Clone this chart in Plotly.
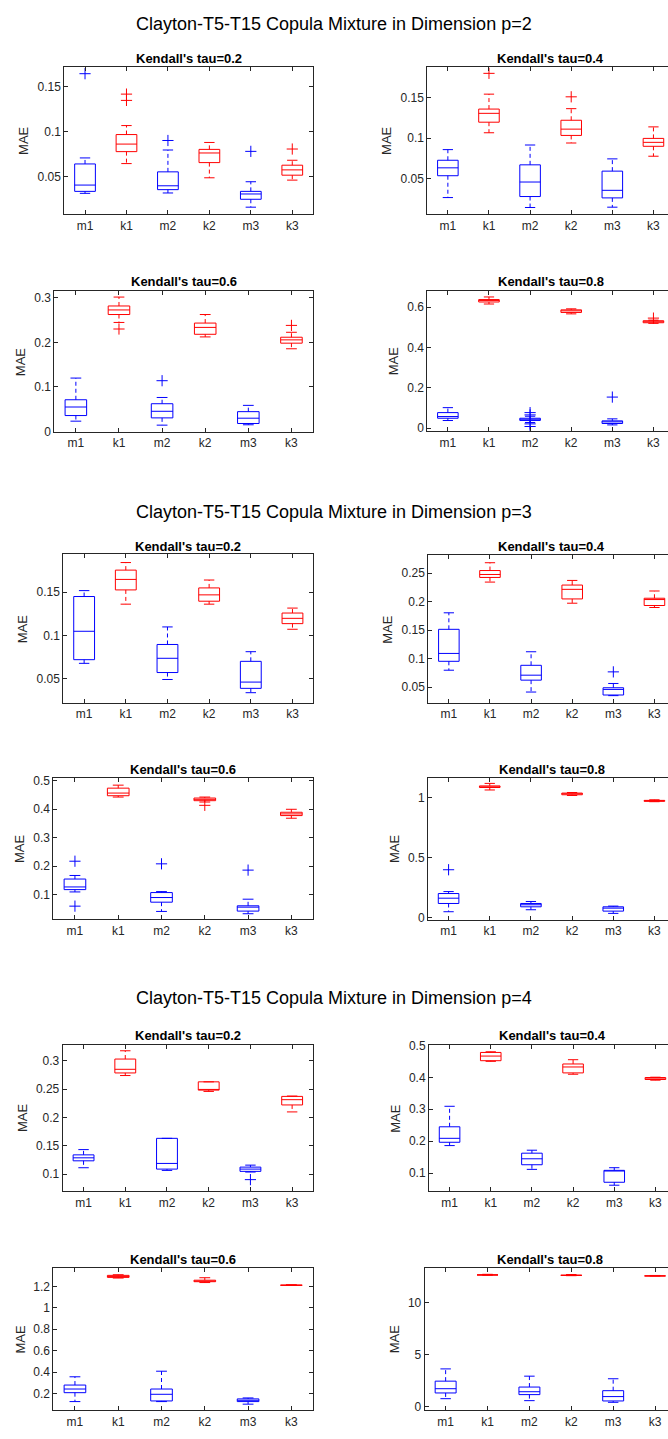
import plotly.graph_objects as go

# ---------------- data ----------------
CATEGORIES = ["m1", "k1", "m2", "k2", "m3", "k3"]
DIMENSIONS = [2, 3, 4]
TAUS = ["0.2", "0.4", "0.6", "0.8"]

# one row per panel: p=2 (tau .2,.4,.6,.8), p=3 (...), p=4 (...)
LOWER_WHISKER = [
    [0.0316, 0.0647, 0.0320, 0.0489, 0.0162, 0.0463],
    [0.0262, 0.1066, 0.0139, 0.0939, 0.0143, 0.0775],
    [0.0229, 0.2446, 0.0140, 0.2121, 0.0148, 0.1855],
    [0.0377, 0.6160, 0.0280, 0.5670, 0.0160, 0.5200],
    [0.0680, 0.1361, 0.0494, 0.1361, 0.0342, 0.1072],
    [0.0798, 0.2341, 0.0416, 0.1971, 0.0353, 0.1896],
    [0.1093, 0.4420, 0.0409, 0.4246, 0.0328, 0.3678],
    [0.0470, 1.0650, 0.0635, 1.0190, 0.0330, 0.9670],
    [0.1111, 0.2738, 0.1064, 0.2458, 0.1035, 0.2096],
    [0.1860, 0.4503, 0.1114, 0.4098, 0.0617, 0.3912],
    [0.1260, 1.2770, 0.1260, 1.2350, 0.1020, 1.2080],
    [0.76, 12.66, 0.57, 12.62, 0.41, 12.58],
]
Q1 = [
    [0.0338, 0.0780, 0.0357, 0.0658, 0.0250, 0.0518],
    [0.0533, 0.1197, 0.0275, 0.1033, 0.0258, 0.0898],
    [0.0355, 0.2624, 0.0303, 0.2180, 0.0177, 0.1981],
    [0.0490, 0.6260, 0.0380, 0.5740, 0.0230, 0.5230],
    [0.0722, 0.1525, 0.0574, 0.1395, 0.0392, 0.1137],
    [0.0954, 0.2422, 0.0624, 0.2046, 0.0364, 0.1931],
    [0.1174, 0.4467, 0.0733, 0.4293, 0.0420, 0.3770],
    [0.1160, 1.0860, 0.0880, 1.0250, 0.0520, 0.9700],
    [0.1233, 0.2784, 0.1087, 0.2481, 0.1047, 0.2219],
    [0.1964, 0.4523, 0.1259, 0.4140, 0.0710, 0.3933],
    [0.2090, 1.2830, 0.1320, 1.2430, 0.1260, 1.2090],
    [1.31, 12.68, 1.15, 12.64, 0.54, 12.59],
]
MEDIAN = [
    [0.0408, 0.0864, 0.0400, 0.0765, 0.0309, 0.0577],
    [0.0631, 0.1307, 0.0455, 0.1111, 0.0352, 0.0947],
    [0.0547, 0.2727, 0.0451, 0.2335, 0.0296, 0.2055],
    [0.0574, 0.6330, 0.0440, 0.5820, 0.0310, 0.5280],
    [0.1049, 0.1646, 0.0738, 0.1468, 0.0464, 0.1198],
    [0.1092, 0.2474, 0.0711, 0.2214, 0.0462, 0.2035],
    [0.1267, 0.4560, 0.0896, 0.4340, 0.0559, 0.3829],
    [0.1600, 1.0910, 0.1050, 1.0330, 0.0770, 0.9750],
    [0.1286, 0.2848, 0.1187, 0.2493, 0.1087, 0.2312],
    [0.2088, 0.4668, 0.1446, 0.4326, 0.1062, 0.3953],
    [0.2430, 1.2920, 0.1940, 1.2490, 0.1380, 1.2120],
    [1.72, 12.71, 1.43, 12.68, 0.96, 12.61],
]
Q3 = [
    [0.0643, 0.0970, 0.0555, 0.0805, 0.0338, 0.0629],
    [0.0725, 0.1360, 0.0668, 0.1221, 0.0590, 0.0996],
    [0.0710, 0.2816, 0.0621, 0.2432, 0.0443, 0.2114],
    [0.0770, 0.6380, 0.0490, 0.5870, 0.0360, 0.5330],
    [0.1449, 0.1753, 0.0897, 0.1548, 0.0703, 0.1259],
    [0.1514, 0.2543, 0.0884, 0.2289, 0.0491, 0.2058],
    [0.1545, 0.4733, 0.1070, 0.4386, 0.0606, 0.3887],
    [0.1990, 1.0990, 0.1160, 1.0390, 0.0880, 0.9780],
    [0.1338, 0.3029, 0.1630, 0.2627, 0.1122, 0.2370],
    [0.2450, 0.4782, 0.1622, 0.4420, 0.1083, 0.3995],
    [0.2800, 1.3020, 0.2430, 1.2570, 0.1510, 1.2140],
    [2.45, 12.73, 1.88, 12.71, 1.53, 12.63],
]
UPPER_WHISKER = [
    [0.0710, 0.1070, 0.0798, 0.0882, 0.0445, 0.0684],
    [0.0857, 0.1545, 0.0914, 0.1365, 0.0742, 0.1139],
    [0.1197, 0.3016, 0.0761, 0.2624, 0.0584, 0.2225],
    [0.1016, 0.6510, 0.0590, 0.5920, 0.0460, 0.5360],
    [0.1517, 0.1840, 0.1099, 0.1639, 0.0814, 0.1316],
    [0.1803, 0.2680, 0.1121, 0.2370, 0.0566, 0.2185],
    [0.1670, 0.4838, 0.1104, 0.4420, 0.0838, 0.3991],
    [0.2155, 1.1200, 0.1326, 1.0440, 0.0940, 0.9830],
    [0.1431, 0.3175, 0.1630, 0.2627, 0.1157, 0.2376],
    [0.3093, 0.4803, 0.1715, 0.4554, 0.1166, 0.4005],
    [0.3570, 1.3080, 0.4090, 1.2800, 0.1600, 1.2150],
    [3.63, 12.75, 2.93, 12.73, 2.68, 12.64],
]
OUTLIERS = [
    [[0.1647], [0.142, 0.135], [0.0904], [], [0.0783], [0.0809]],
    [[], [0.1803], [], [0.1512], [], []],
    [[], [0.2299], [0.1138], [], [], [0.238]],
    [[], [], [0.077, 0.0656, 0.021, 0.008], [], [0.154], [0.546]],
    [[], [], [], [], [], []],
    [[], [], [], [], [0.0769], []],
    [[0.217, 0.0594], [], [0.2078], [0.413], [0.1858], []],
    [[0.398], [], [], [], [], []],
    [[], [], [], [], [0.0901], []],
    [[], [], [], [], [], []],
    [[], [], [], [], [], []],
    [[], [], [], [], [], []],
]
Y_TICKS = [
    [0.05, 0.1, 0.15],
    [0.05, 0.1, 0.15],
    [0, 0.1, 0.2, 0.3],
    [0, 0.2, 0.4, 0.6],
    [0.05, 0.1, 0.15],
    [0.05, 0.1, 0.15, 0.2, 0.25],
    [0.1, 0.2, 0.3, 0.4, 0.5],
    [0, 0.5, 1],
    [0.1, 0.15, 0.2, 0.25, 0.3],
    [0.1, 0.2, 0.3, 0.4, 0.5],
    [0.2, 0.4, 0.6, 0.8, 1, 1.2],
    [0, 5, 10],
]

# ---------------- layout / style ----------------
W, H = 668, 1439
FONT = "Liberation Sans, Arial, Helvetica, sans-serif"
AXIS_COLOR = "#262626"
COLORS = {"m": "#0000ff", "k": "#ff0000"}
HALF = 0.25   # half box width (data units)
CAP = 0.125   # half whisker-cap width

# plot box of each panel in pixels: left, right, top, bottom
PANEL_BOX = [
    (64.3, 313.0, 61.7, 210.0), (427.3, 674.0, 61.7, 210.0),
    (54.3, 313.0, 287.7, 429.7), (427.3, 674.0, 287.3, 429.3),
    (63.3, 313.3, 553.3, 703.3), (428.3, 675.0, 554.3, 703.3),
    (53.3, 313.0, 779.0, 921.7), (428.0, 675.0, 779.3, 922.3),
    (62.7, 313.0, 1048.3, 1196.0), (429.0, 676.0, 1048.0, 1196.3),
    (53.3, 313.0, 1274.0, 1417.3), (424.7, 676.0, 1273.7, 1417.3),
]
Y_RANGE = [
    (0.0085, 0.172), (0.0057, 0.188),
    (-0.001, 0.315), (-0.0164, 0.682),
    (0.0224, 0.1935), (0.0225, 0.281),
    (0.013, 0.509), (-0.022, 1.163),
    (0.0697, 0.328), (0.042, 0.503),
    (0.043, 1.366), (-0.38, 13.34),
]
YLABEL_X = [23.3, 386.3, 20.7, 393.3, 22.7, 386.7, 19.3, 394.0, 22.0, 394.7, 20.0, 394.0]
TITLE_Y = [52.7, 52.7, 277.7, 277.7, 545.0, 545.0, 770.0, 770.0, 1039.0, 1039.0, 1265.0, 1265.0]
SECTION_Y = [18.0, 511.0, 1001.0]

fig = go.Figure()
layout_axes = {}
annotations = []

for p in range(12):
    n = p + 1
    xref = "x" if n == 1 else f"x{n}"
    yref = "y" if n == 1 else f"y{n}"
    for key in ("m", "k"):
        sx, sy, dx, dy, ox, oy = [], [], [], [], [], []
        for i, cat in enumerate(CATEGORIES):
            if cat[0] != key:
                continue
            x = i + 1
            lo, q1, md, q3, hi = (LOWER_WHISKER[p][i], Q1[p][i], MEDIAN[p][i],
                                  Q3[p][i], UPPER_WHISKER[p][i])
            sx += [x - HALF, x + HALF, x + HALF, x - HALF, x - HALF, None,
                   x - HALF, x + HALF, None,
                   x - CAP, x + CAP, None, x - CAP, x + CAP, None]
            sy += [q1, q1, q3, q3, q1, None, md, md, None, hi, hi, None, lo, lo, None]
            dx += [x, x, None, x, x, None]
            dy += [q3, hi, None, q1, lo, None]
            for v in OUTLIERS[p][i]:
                ox.append(x)
                oy.append(v)
        c = COLORS[key]
        fig.add_trace(go.Scatter(x=dx, y=dy, mode="lines", xaxis=xref, yaxis=yref,
                                 line=dict(color=c, width=1, dash="4px,3px"),
                                 hoverinfo="skip", showlegend=False))
        fig.add_trace(go.Scatter(x=sx, y=sy, mode="lines", xaxis=xref, yaxis=yref,
                                 line=dict(color=c, width=1),
                                 hoverinfo="skip", showlegend=False))
        if ox:
            fig.add_trace(go.Scatter(x=ox, y=oy, mode="markers", xaxis=xref, yaxis=yref,
                                     marker=dict(symbol="cross-thin", size=8,
                                                 line=dict(color=c, width=1)),
                                     hoverinfo="skip", showlegend=False))

    L, R, T, B = PANEL_BOX[p]
    right_col = (p % 2 == 1)
    ppu = (R - L) / 6.0
    if R > W:
        xend = 0.5 + (W - L) / ppu
        dom_r = 1.0
    else:
        xend = 6.5
        dom_r = R / W
    axis_common = dict(showline=True, linecolor=AXIS_COLOR, linewidth=1,
                       ticks="inside", ticklen=4, tickwidth=1, tickcolor=AXIS_COLOR,
                       showgrid=False, zeroline=False,
                       tickfont=dict(family=FONT, size=12, color=AXIS_COLOR))
    layout_axes["xaxis" if n == 1 else f"xaxis{n}"] = dict(
        axis_common, domain=[L / W, dom_r], range=[0.5, xend],
        anchor=yref, mirror="allticks",
        tickmode="array", tickvals=list(range(1, 7)), ticktext=CATEGORIES,
    )
    layout_axes["yaxis" if n == 1 else f"yaxis{n}"] = dict(
        axis_common, domain=[1 - B / H, 1 - T / H], range=list(Y_RANGE[p]),
        anchor=xref, mirror=False if right_col else "allticks",
        tickmode="array", tickvals=Y_TICKS[p], ticktext=[f"{v:g}" for v in Y_TICKS[p]],
    )
    tau = TAUS[p % 4]
    annotations.append(dict(
        text=f"<b>Kendall's tau={tau}</b>", xref="paper", yref="paper",
        x=((L + R) / 2) / W, y=1 - TITLE_Y[p] / H, xanchor="center", yanchor="middle",
        showarrow=False, font=dict(family=FONT, size=13, color="#000000")))
    annotations.append(dict(
        text="MAE", xref="paper", yref="paper", textangle=-90,
        x=YLABEL_X[p] / W, y=1 - ((T + B) / 2) / H, xanchor="center", yanchor="middle",
        showarrow=False, font=dict(family=FONT, size=13, color=AXIS_COLOR)))

for s, dim in enumerate(DIMENSIONS):
    annotations.append(dict(
        text=f"Clayton-T5-T15 Copula Mixture in Dimension p={dim}",
        xref="paper", yref="paper", x=0.5, y=1 - SECTION_Y[s] / H,
        xanchor="center", yanchor="middle", showarrow=False,
        font=dict(family=FONT, size=18, color="#000000")))

fig.update_layout(
    width=W, height=H, margin=dict(l=0, r=0, t=0, b=0),
    paper_bgcolor="white", plot_bgcolor="white", showlegend=False,
    annotations=annotations, **layout_axes,
)

fig.write_html(
    "out.html",
    config={"displayModeBar": False, "staticPlot": True},
    post_script="document.body.style.margin='0';document.body.style.overflow='hidden';",
)
